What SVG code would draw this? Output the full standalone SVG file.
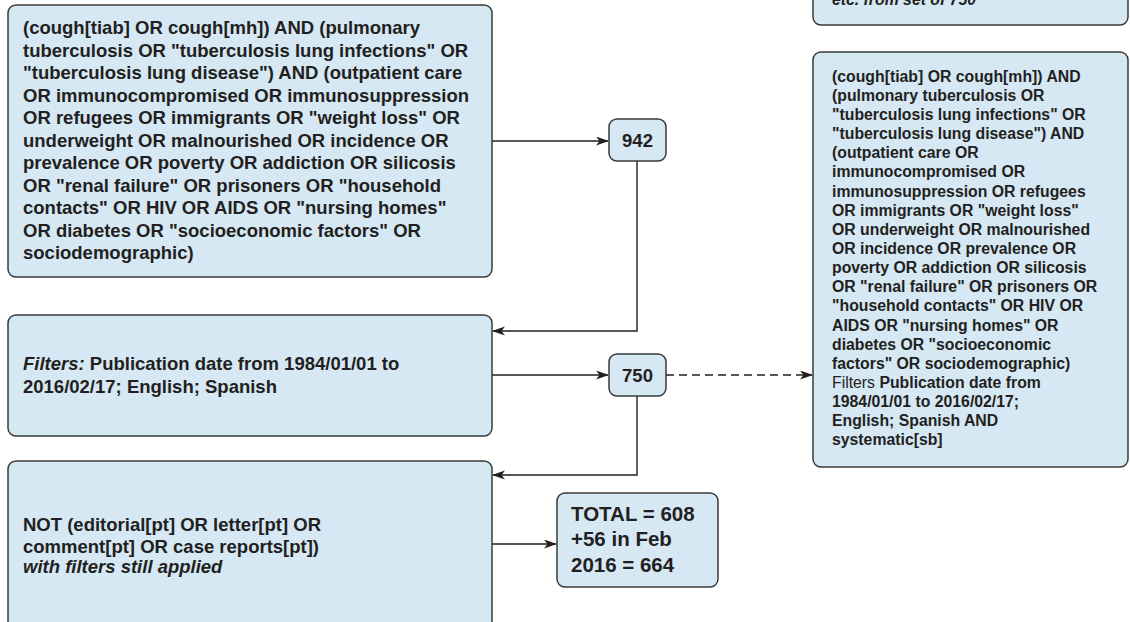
<svg xmlns="http://www.w3.org/2000/svg" width="1130" height="622" viewBox="0 0 1130 622">
<style>
.box{fill:#d5e8f4;stroke:#3a3a3a;stroke-width:1.5}
.t{font-family:"Liberation Sans",Arial,sans-serif;font-weight:bold;fill:#231f20}
.big{font-size:18.5px}
.sm{font-size:15.8px}
.tot{font-size:20.5px}
.it{font-style:italic}
.reg{font-weight:normal}
.c{fill:none;stroke:#231f20;stroke-width:1.4}
.d{stroke-dasharray:8 5}
</style>
<defs>
<marker id="ah" markerWidth="14" markerHeight="10" refX="12" refY="4.5" orient="auto" markerUnits="userSpaceOnUse">
<path d="M0,0 L13,4.5 L0,9 L3.5,4.5 z" fill="#231f20"/>
</marker>
</defs>
<g id="connectors">
<line class="c" x1="492" y1="141" x2="608" y2="141" marker-end="url(#ah)"/>
<polyline class="c" points="637,161 637,331 493,331" marker-end="url(#ah)"/>
<line class="c" x1="492" y1="375" x2="608" y2="375" marker-end="url(#ah)"/>
<line class="c d" x1="666" y1="375" x2="812" y2="375" marker-end="url(#ah)"/>
<polyline class="c" points="637,396 637,475 493,475" marker-end="url(#ah)"/>
<line class="c" x1="492" y1="544" x2="556" y2="544" marker-end="url(#ah)"/>
</g>
<g id="node-top-right">
<rect class="box" x="813" y="-100" width="315" height="125" rx="8"/>
<text class="t sm it" x="832" y="4.5">etc. from set of 750</text>
</g>
<g id="node-query">
<rect class="box" x="8" y="5" width="484" height="272" rx="8"/>
<text class="t big" x="23">
<tspan x="23" y="34.2">(cough[tiab] OR cough[mh]) AND (pulmonary</tspan>
<tspan x="23" y="56.7">tuberculosis OR "tuberculosis lung infections" OR</tspan>
<tspan x="23" y="79.2">"tuberculosis lung disease") AND (outpatient care</tspan>
<tspan x="23" y="101.7">OR immunocompromised OR immunosuppression</tspan>
<tspan x="23" y="124.2">OR refugees OR immigrants OR "weight loss" OR</tspan>
<tspan x="23" y="146.7">underweight OR malnourished OR incidence OR</tspan>
<tspan x="23" y="169.2">prevalence OR poverty OR addiction OR silicosis</tspan>
<tspan x="23" y="191.7">OR "renal failure" OR prisoners OR "household</tspan>
<tspan x="23" y="214.2">contacts" OR HIV OR AIDS OR "nursing homes"</tspan>
<tspan x="23" y="236.7">OR diabetes OR "socioeconomic factors" OR</tspan>
<tspan x="23" y="259.2">sociodemographic)</tspan>
</text>
</g>
<g id="node-942">
<rect class="box" x="609" y="119" width="57" height="42" rx="8"/>
<text class="t big" x="637.5" y="147" text-anchor="middle">942</text>
</g>
<g id="node-filters">
<rect class="box" x="8" y="315" width="484" height="121" rx="8"/>
<text class="t big">
<tspan x="23" y="370"><tspan class="it">Filters:</tspan> Publication date from 1984/01/01 to</tspan>
<tspan x="23" y="392.5">2016/02/17; English; Spanish</tspan>
</text>
</g>
<g id="node-750">
<rect class="box" x="609" y="354" width="57" height="42" rx="8"/>
<text class="t big" x="637.5" y="382" text-anchor="middle">750</text>
</g>
<g id="node-systematic">
<rect class="box" x="813" y="52" width="315" height="415" rx="8"/>
<text class="t sm">
<tspan x="832" y="81.7">(cough[tiab] OR cough[mh]) AND</tspan>
<tspan x="832" y="100.8">(pulmonary tuberculosis OR</tspan>
<tspan x="832" y="120">"tuberculosis lung infections" OR</tspan>
<tspan x="832" y="139.1">"tuberculosis lung disease") AND</tspan>
<tspan x="832" y="158.3">(outpatient care OR</tspan>
<tspan x="832" y="177.4">immunocompromised OR</tspan>
<tspan x="832" y="196.5">immunosuppression OR refugees</tspan>
<tspan x="832" y="215.7">OR immigrants OR "weight loss"</tspan>
<tspan x="832" y="234.8">OR underweight OR malnourished</tspan>
<tspan x="832" y="254">OR incidence OR prevalence OR</tspan>
<tspan x="832" y="273.1">poverty OR addiction OR silicosis</tspan>
<tspan x="832" y="292.2">OR "renal failure" OR prisoners OR</tspan>
<tspan x="832" y="311.4">"household contacts" OR HIV OR</tspan>
<tspan x="832" y="330.5">AIDS OR "nursing homes" OR</tspan>
<tspan x="832" y="349.7">diabetes OR "socioeconomic</tspan>
<tspan x="832" y="368.8">factors" OR sociodemographic)</tspan>
<tspan x="832" y="387.9"><tspan class="reg">Filters</tspan> Publication date from</tspan>
<tspan x="832" y="407.1">1984/01/01 to 2016/02/17;</tspan>
<tspan x="832" y="426.2">English; Spanish AND</tspan>
<tspan x="832" y="445.4">systematic[sb]</tspan>
</text>
</g>
<g id="node-not">
<rect class="box" x="8" y="461" width="484" height="200" rx="8"/>
<text class="t big">
<tspan x="23" y="531">NOT (editorial[pt] OR letter[pt] OR</tspan>
<tspan x="23" y="552.7">comment[pt] OR case reports[pt])</tspan>
<tspan x="23" y="572.5" class="it">with filters still applied</tspan>
</text>
</g>
<g id="node-total">
<rect class="box" x="557" y="493" width="161" height="94" rx="8"/>
<text class="t tot">
<tspan x="571" y="520.5">TOTAL = 608</tspan>
<tspan x="571" y="546">+56 in Feb</tspan>
<tspan x="571" y="571.5">2016 = 664</tspan>
</text>
</g>
</svg>
